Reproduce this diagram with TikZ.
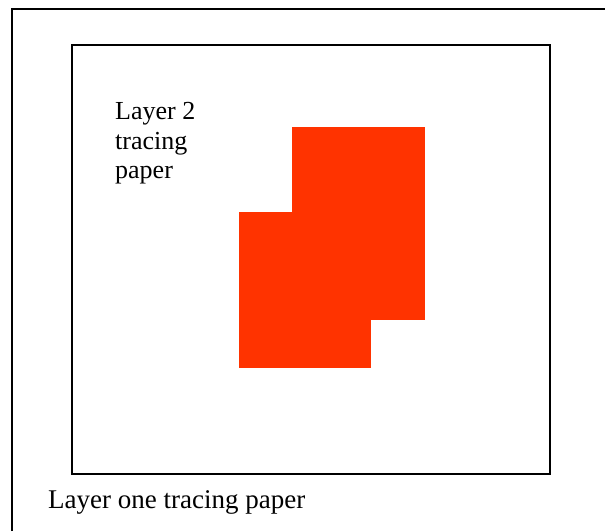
\documentclass[tikz,border=0pt]{standalone}
\usepackage{fontspec}
\setmainfont{Liberation Serif}
\definecolor{tracered}{HTML}{FF3300}
\begin{document}
\begin{tikzpicture}[x=1pt,y=-1pt,
  frame/.style={line width=2pt,line cap=rect},
  patch/.style={fill=tracered,draw=none},
  lbl/.style={inner sep=0pt,anchor=base west,align=left}]
\useasboundingbox (0,0) rectangle (605,531);
% outer sheet (layer one), cut off at right and bottom
\coordinate (o1) at (12,531);
\coordinate (o2) at (12,9);
\coordinate (o3) at (605,9);
\draw[frame,line cap=butt] (o1) -- (o2) -- (o3);
% inner sheet (layer two)
\draw[frame] (72,45) rectangle (550,474);
% red patches
\fill[patch] (292,127) rectangle (425,320);
\fill[patch] (239,212) rectangle (371,368);
% labels
\node[lbl,font=\fontsize{26}{29.5}\selectfont] (l2) at (115,178.5) {Layer 2\\tracing\\paper};
\node[lbl,font=\fontsize{27}{30}\selectfont] (l1) at (48,508) {Layer one tracing paper};
\end{tikzpicture}
\end{document}
